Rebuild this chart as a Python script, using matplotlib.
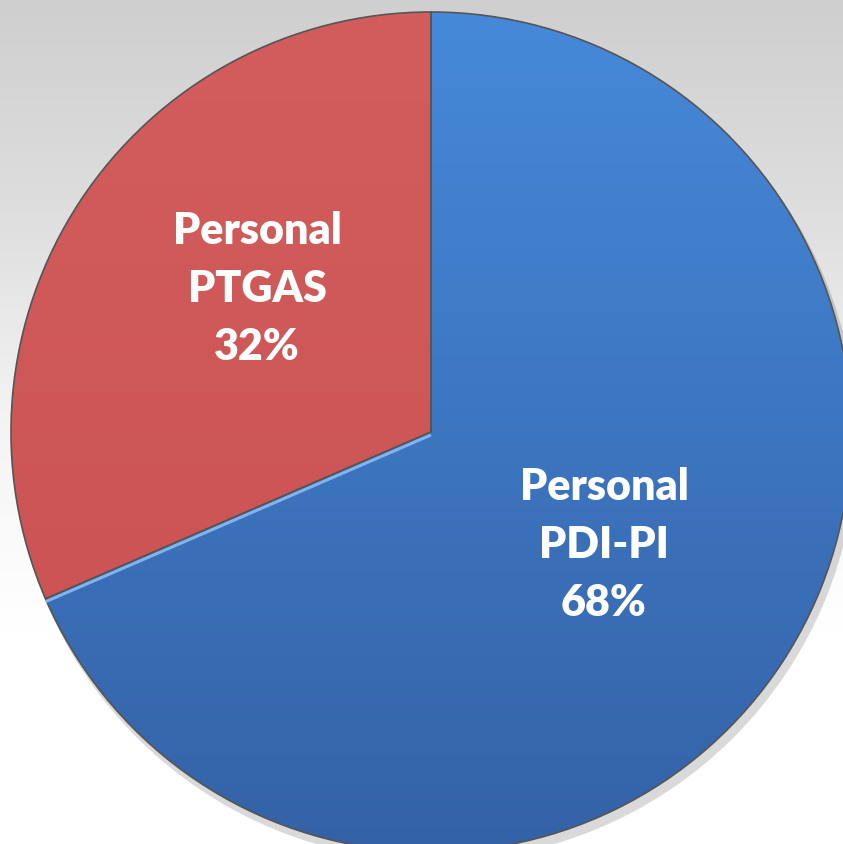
import numpy as np
import matplotlib
matplotlib.use("Agg")
from matplotlib import pyplot as plt
from matplotlib.colors import LinearSegmentedColormap

# datos del gráfico
names = ["Personal\nPTGAS", "Personal\nPDI-PI"]
values = [31.5, 68.5]
top_colors = ["#d35d5d", "#4689d9"]
bottom_colors = ["#c95050", "#3462a6"]

W, H = 843, 844
R = 420.0
cx, cy = 431.0, 432.0

fig = plt.figure(figsize=(W / 100, H / 100), dpi=100)
ax = fig.add_axes([0, 0, 1, 1])

wedges, _ = ax.pie(values, startangle=90, counterclock=True, radius=1,
                   wedgeprops=dict(linewidth=1.2, edgecolor="#555555"))

xlim = (-cx / R, (W - cx) / R)
ylim = (-(H - cy) / R, cy / R)
ax.set_xlim(*xlim)
ax.set_ylim(*ylim)
ax.set_aspect("auto")
ax.axis("off")

# fondo degradado gris -> blanco
bg = LinearSegmentedColormap.from_list("bg", ["#cfcfcf", "#dedede", "#f4f4f4", "#ffffff", "#ffffff"])
grad = np.linspace(0, 1, 256).reshape(-1, 1)
ax.imshow(grad, cmap=bg, aspect="auto", extent=[xlim[0], xlim[1], ylim[0], ylim[1]],
          zorder=0, interpolation="bicubic")

# sombra
shadow = plt.Circle((0.01, -0.018), 1.004, color="#000000", alpha=0.15, zorder=1, lw=0)
ax.add_patch(shadow)

# relleno degradado dentro de cada sector
for w, ct, cb in zip(wedges, top_colors, bottom_colors):
    cmap = LinearSegmentedColormap.from_list("g", [ct, cb])
    im = ax.imshow(grad, cmap=cmap, aspect="auto", extent=[-1, 1, -1, 1],
                   zorder=3, interpolation="bicubic")
    im.set_clip_path(w)
    w.set_facecolor("none")
    w.set_zorder(4)

# brillo en el borde entre sectores
ang = np.deg2rad(90 + 360 * values[0] / 100)
ax.plot([0, np.cos(ang)], [-0.007, np.sin(ang) - 0.007], color="#7fb4f0", lw=2.2,
        zorder=5, solid_capstyle="butt")

pos = [((257 - cx) / R, (cy - 289) / R), ((604 - cx) / R, (cy - 545) / R)]
for name, v, (x, y) in zip(names, values, pos):
    ax.text(x, y, f"{name}\n{v:.0f}%", ha="center", va="center", color="white",
            fontsize=31, fontweight="heavy", family=["Lato", "DejaVu Sans"],
            linespacing=1.55, zorder=6)

fig.savefig("out.png", dpi=100)
